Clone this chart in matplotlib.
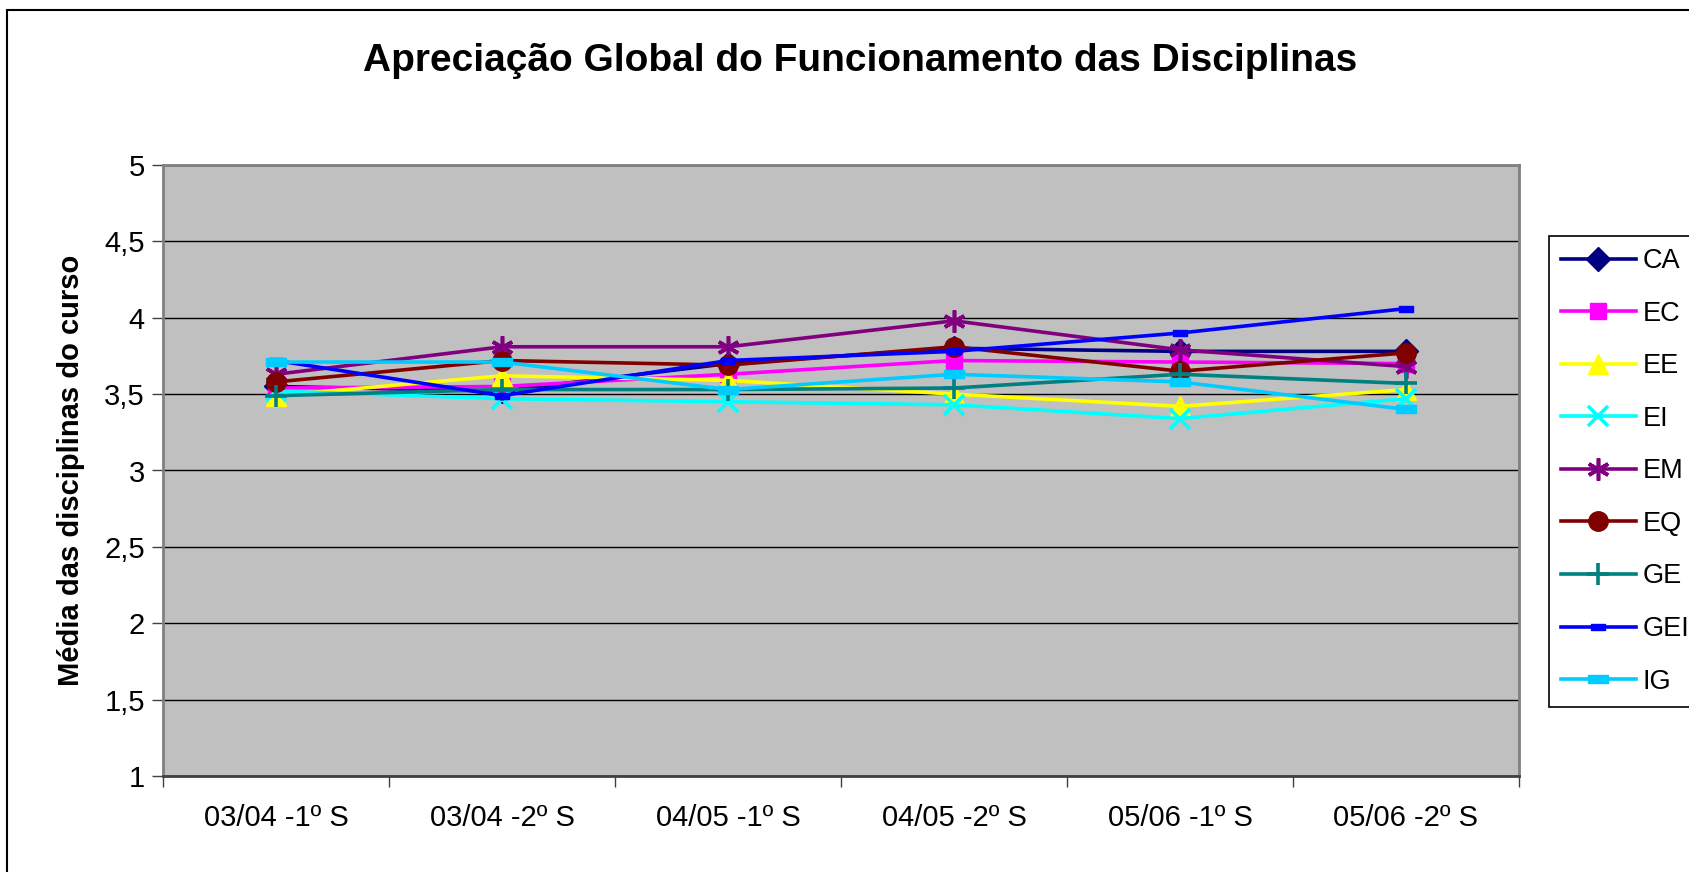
import matplotlib.pyplot as plt
import numpy as np
from matplotlib.patches import Rectangle
from matplotlib.path import Path

plt.rcParams['font.family'] = ['Liberation Sans', 'DejaVu Sans']

# semesters and mean scores per course
semestres = ['03/04 -1º S', '03/04 -2º S', '04/05 -1º S', '04/05 -2º S', '05/06 -1º S', '05/06 -2º S']
cursos = ['CA', 'EC', 'EE', 'EI', 'EM', 'EQ', 'GE', 'GEI', 'IG']
CA = [3.55, 3.52, 3.70, 3.80, 3.78, 3.78]
EC = [3.54, 3.55, 3.63, 3.72, 3.71, 3.70]
EE = [3.49, 3.62, 3.59, 3.50, 3.42, 3.53]
EI = [3.52, 3.47, 3.45, 3.43, 3.34, 3.47]
EM = [3.63, 3.81, 3.81, 3.98, 3.79, 3.68]
EQ = [3.58, 3.72, 3.69, 3.81, 3.65, 3.77]
GE = [3.49, 3.53, 3.53, 3.54, 3.63, 3.57]
GEI = [3.72, 3.49, 3.72, 3.78, 3.90, 4.06]
IG = [3.71, 3.71, 3.53, 3.63, 3.58, 3.40]
valores = [CA, EC, EE, EI, EM, EQ, GE, GEI, IG]

cores = ['#000080', '#FF00FF', '#FFFF00', '#00FFFF', '#800080', '#800000', '#008080', '#0000FF', '#00CCFF']

# small flat rectangles for GEI / IG (excel "dash" marker)
dash_small = Path([(-1, -0.45), (1, -0.45), (1, 0.45), (-1, 0.45), (-1, -0.45)],
                  [Path.MOVETO, Path.LINETO, Path.LINETO, Path.LINETO, Path.CLOSEPOLY])
marcadores = ['D', 's', '^', 'x', (6, 2, 0), 'o', '+', dash_small, dash_small]
tamanhos = [12, 12, 14, 15, 16, 14, 16, 10, 14]

fig = plt.figure(figsize=(16.9, 8.72), dpi=100)
ax = fig.add_axes([163/1690, 1-776/872, (1519-163)/1690, (776-165)/872])
ax.set_facecolor('#C0C0C0')

x = np.arange(len(semestres))
for nome, vals, cor, m, ms in zip(cursos, valores, cores, marcadores, tamanhos):
    mew = 2.6 if m in ('x', '+', (6, 2, 0)) else 1
    ax.plot(x, vals, color=cor, lw=2.6, marker=m, markersize=ms,
            markerfacecolor=cor, markeredgecolor=cor, markeredgewidth=mew, label=nome)

ax.set_xlim(-0.5, len(semestres) - 0.5)
ax.set_ylim(1, 5)
ax.set_yticks(np.arange(1, 5.01, 0.5))
ax.set_yticklabels([('%g' % v).replace('.', ',') for v in np.arange(1, 5.01, 0.5)])
ax.yaxis.grid(True, color='black', lw=1)
ax.set_axisbelow(True)

ax.set_xticks(x)
ax.set_xticklabels(semestres)
ax.set_xticks(np.arange(-0.5, len(semestres)), minor=True)
ax.tick_params(axis='x', which='major', length=0, pad=20, labelsize=21)
ax.tick_params(axis='x', which='minor', length=8, width=1, color='#404040', direction='out')
ax.tick_params(axis='y', length=8, width=1, color='#404040', direction='out', pad=5, labelsize=21)

for s in ax.spines.values():
    s.set_color('#808080')
    s.set_linewidth(2)
ax.spines['bottom'].set_color('#404040')

ax.set_ylabel('Média das disciplinas do curso', fontsize=21, fontweight='bold', labelpad=14)

fig.text(0.509, 1-61/872, 'Apreciação Global do Funcionamento das Disciplinas',
         ha='center', va='center', fontsize=28, fontweight='bold')

leg = fig.legend(loc='upper left', bbox_to_anchor=(1549/1690, 1-236/872), fontsize=19.5,
                 frameon=True, fancybox=False, edgecolor='black', framealpha=1,
                 borderaxespad=0, borderpad=0.45, labelspacing=0.98,
                 handlelength=2.75, handletextpad=0.25)
leg.get_frame().set_linewidth(1.2)

# outer chart border
fig.patches.append(Rectangle((7/1690, -0.02), 1.1, 1-10/872 + 0.02, transform=fig.transFigure,
                             fill=False, edgecolor='black', lw=1.5))

fig.savefig('out.png', dpi=100, facecolor='white')
